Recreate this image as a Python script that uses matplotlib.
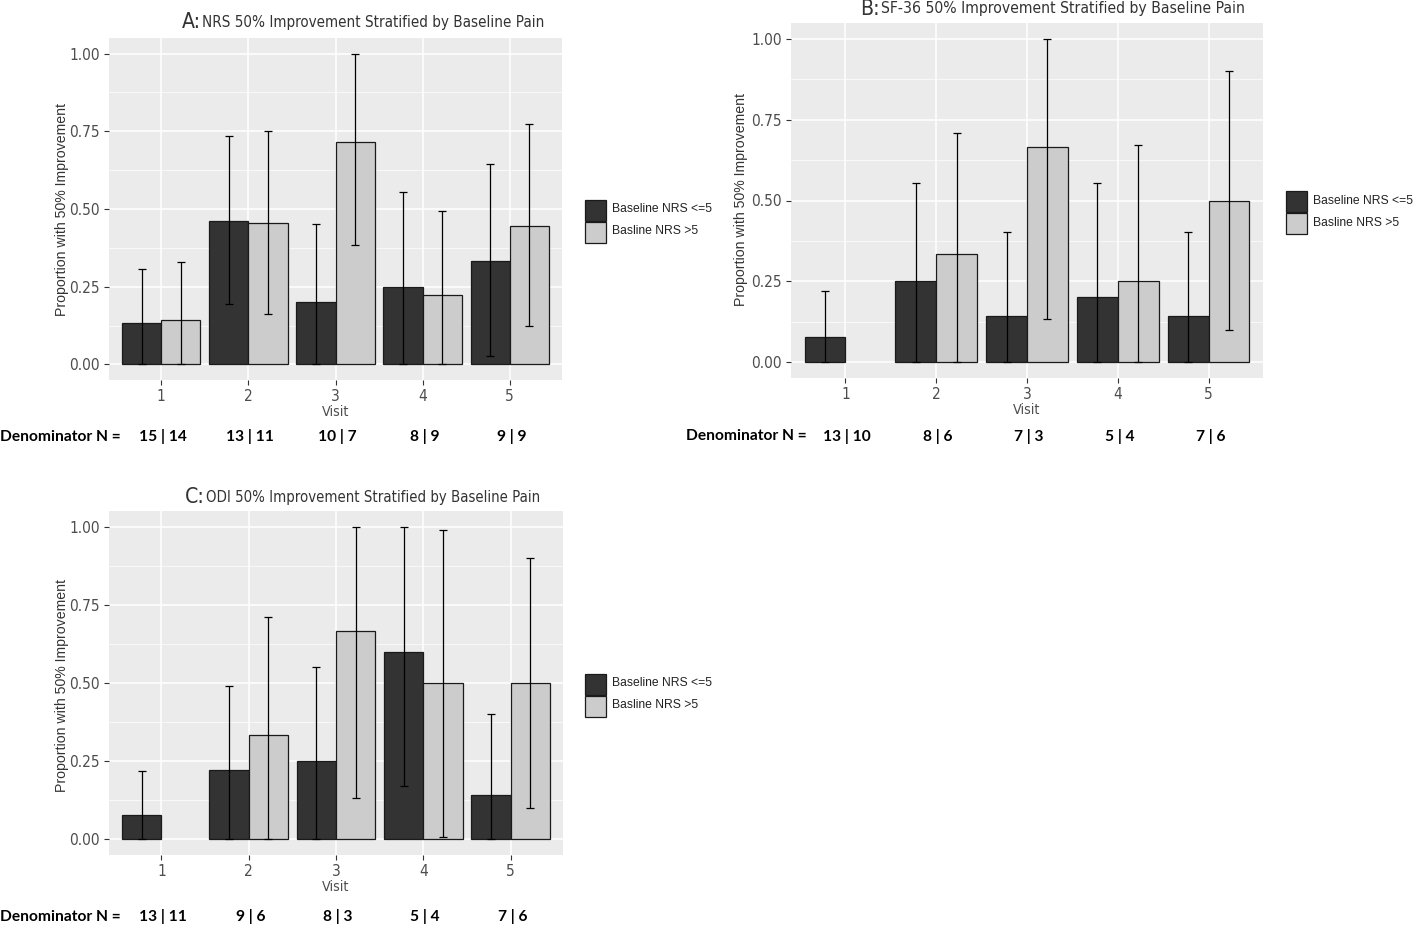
import numpy as np
import matplotlib
matplotlib.use("Agg")
import matplotlib.pyplot as plt
from matplotlib.patches import Rectangle
from matplotlib.transforms import blended_transform_factory
from matplotlib import font_manager as fm
from matplotlib.font_manager import FontProperties

# ---------------- data ----------------
visits = [1, 2, 3, 4, 5]
visit_labels = ["1", "2", "3", "4", "5"]
series_names = ["Baseline NRS <=5", "Basline NRS >5"]

# Panel A: NRS
nrs_low = [0.133, 0.462, 0.200, 0.250, 0.333]
nrs_low_lo = [0.0, 0.193, 0.0, 0.0, 0.028]
nrs_low_hi = [0.307, 0.735, 0.451, 0.555, 0.645]
nrs_high = [0.143, 0.455, 0.714, 0.222, 0.444]
nrs_high_lo = [0.0, 0.163, 0.383, 0.0, 0.124]
nrs_high_hi = [0.329, 0.750, 1.0, 0.495, 0.773]
nrs_denoms = ["15 | 14", "13 | 11", "10 | 7", "8 | 9", "9 | 9"]

# Panel B: SF-36
sf_low = [0.077, 0.250, 0.143, 0.200, 0.143]
sf_low_lo = [0.0, 0.0, 0.0, 0.0, 0.0]
sf_low_hi = [0.221, 0.553, 0.402, 0.553, 0.402]
sf_high = [0.0, 0.333, 0.667, 0.250, 0.500]
sf_high_lo = [np.nan, 0.0, 0.134, 0.0, 0.099]
sf_high_hi = [np.nan, 0.709, 1.0, 0.672, 0.900]
sf_denoms = ["13 | 10", "8 | 6", "7 | 3", "5 | 4", "7 | 6"]

# Panel C: ODI
odi_low = [0.077, 0.222, 0.250, 0.600, 0.143]
odi_low_lo = [0.0, 0.0, 0.0, 0.171, 0.0]
odi_low_hi = [0.220, 0.492, 0.551, 1.0, 0.401]
odi_high = [0.0, 0.333, 0.667, 0.500, 0.500]
odi_high_lo = [np.nan, 0.0, 0.133, 0.009, 0.099]
odi_high_hi = [np.nan, 0.710, 1.0, 0.989, 0.899]
odi_denoms = ["13 | 11", "9 | 6", "8 | 3", "5 | 4", "7 | 6"]

# ---------------- fonts ----------------
_fl = fm.fontManager.ttflist
_names = {f.name for f in _fl}
if "Liberation Sans Narrow" in _names:
    FP_N = FontProperties(family=["Liberation Sans Narrow", "DejaVu Sans"])
elif any(f.name == "DejaVu Sans" and "ondensed" in str(f.stretch) for f in _fl) or \
        any("DejaVuSansCondensed" in f.fname for f in _fl):
    FP_N = FontProperties(family=["DejaVu Sans"], stretch="condensed")
else:
    FP_N = FontProperties(family=["Roboto", "DejaVu Sans"])
FP_R = FontProperties(family=["Liberation Sans", "DejaVu Sans"])
FP_B = FontProperties(family=["Lato", "DejaVu Sans"], weight="bold")

# ---------------- style ----------------
W, H = 1418, 927
DARK = "#333333"
LIGHT = "#CCCCCC"
BG = "#EBEBEB"

fig = plt.figure(figsize=(W / 100, H / 100), dpi=100)
renderer = fig.canvas.get_renderer()


def fit_size(s, fp, target_w, rot=False):
    t = fig.text(0, 0, s, fontproperties=fp, fontsize=10, rotation=90 if rot else 0)
    bb = t.get_window_extent(renderer)
    w = bb.height if rot else bb.width
    t.remove()
    return 10 * target_w / w


def fx(px):
    return px / W


def fy(py):
    return 1 - py / H


TICK_SIZE = fit_size("1.00", FP_N, 31)
VISIT_SIZE = fit_size("Visit", FP_N, 27)
YLAB_SIZE = fit_size("Proportion with 50% Improvement", FP_R, 214, rot=True)
LEG_SIZE = fit_size("Baseline NRS <=5", FP_R, 100)
DEN_SIZE = fit_size("Denominator N =", FP_B, 121)
LET_SIZE = fit_size("A:", FP_N, 19)


def panel(box, low, low_lo, low_hi, high, high_lo, high_hi, denoms,
          title_letter, title_rest, title_pos, title_w, ylab_pos, den_label_x, den_y,
          legend_box):
    x0, y0, x1, y1 = box
    ax = fig.add_axes([fx(x0), fy(y1), fx(x1 - x0), fy(y0) - fy(y1)])
    ax.set_facecolor(BG)
    for s in ax.spines.values():
        s.set_visible(False)
    x = np.array(visits, dtype=float)
    w = 0.45
    groups = [(low, low_lo, low_hi, DARK, -w / 2), (high, high_lo, high_hi, LIGHT, w / 2)]
    for vals, lo, hi, col, off in groups:
        vals = np.array(vals)
        lo = np.array(lo)
        hi = np.array(hi)
        m = vals > 0
        ax.bar(x[m] + off, vals[m], width=w, color=col, edgecolor="#1a1a1a",
               linewidth=0.9, zorder=3)
        e = ~np.isnan(hi)
        ax.errorbar(x[e] + off, vals[e], yerr=[vals[e] - lo[e], hi[e] - vals[e]],
                    fmt="none", ecolor="black", elinewidth=0.9, capsize=3.2,
                    capthick=0.9, zorder=4)
    ax.set_xlim(0.4, 5.6)
    ax.set_ylim(-0.05, 1.05)
    ax.set_xticks(visits)
    ax.set_xticklabels(visit_labels)
    ax.set_yticks([0, 0.25, 0.5, 0.75, 1.0])
    ax.set_yticklabels(["0.00", "0.25", "0.50", "0.75", "1.00"])
    ax.set_yticks([0.125, 0.375, 0.625, 0.875], minor=True)
    ax.grid(True, which="major", color="white", linewidth=1.1, zorder=0)
    ax.grid(True, which="minor", axis="y", color="white", linewidth=0.5, zorder=0)
    ax.set_axisbelow(True)
    ax.tick_params(axis="both", which="major", length=3.5, width=0.8,
                   color="#333333", labelcolor="#4D4D4D", pad=3)
    ax.tick_params(axis="both", which="minor", length=0)
    for lab in ax.get_xticklabels() + ax.get_yticklabels():
        lab.set_fontproperties(FP_N)
        lab.set_fontsize(TICK_SIZE)
    ax.set_xlabel("Visit", fontproperties=FP_N, fontsize=VISIT_SIZE, color="#4D4D4D",
                  labelpad=1)
    # y label
    fig.text(fx(ylab_pos[0]), fy(ylab_pos[1]), "Proportion with 50% Improvement",
             rotation=90, ha="center", va="center", fontproperties=FP_R,
             fontsize=YLAB_SIZE, color="#333333")
    # title
    tx, ty = title_pos
    fig.text(fx(tx), fy(ty), title_letter, ha="right", va="center", fontproperties=FP_N,
             fontsize=LET_SIZE, color="#333333")
    fig.text(fx(tx + 1), fy(ty), title_rest, ha="left", va="center", fontproperties=FP_N,
             fontsize=fit_size(title_rest, FP_N, title_w), color="#333333")
    # denominators
    tr = blended_transform_factory(ax.transData, fig.transFigure)
    fig.text(fx(den_label_x), fy(den_y), "Denominator N =", ha="left", va="center",
             fontproperties=FP_B, fontsize=DEN_SIZE, color="black")
    for xv, d in zip(visits, denoms):
        ax.text(xv + 0.02, fy(den_y), d, transform=tr, ha="center", va="center",
                fontproperties=FP_B, fontsize=DEN_SIZE, color="black", clip_on=False)
    # legend
    lx, ly = legend_box
    bw, bh = 21, 21
    for i, (name, col) in enumerate(zip(series_names, [DARK, LIGHT])):
        r = Rectangle((fx(lx), fy(ly + (i + 1) * (bh + 1))), fx(bw), bh / H,
                      transform=fig.transFigure, facecolor=col, edgecolor="#1a1a1a",
                      linewidth=0.9)
        fig.add_artist(r)
        fig.text(fx(lx + bw + 6), fy(ly + i * (bh + 1) + bh / 2), name, ha="left",
                 va="center", fontproperties=FP_R, fontsize=LEG_SIZE, color="#222222")
    return ax


panel((109, 38, 562, 380), nrs_low, nrs_low_lo, nrs_low_hi, nrs_high, nrs_high_lo,
      nrs_high_hi, nrs_denoms, "A:", "NRS 50% Improvement Stratified by Baseline Pain",
      (201, 22), 341, (62, 210), 0, 437, (585, 199))

panel((791, 23, 1263, 378), sf_low, sf_low_lo, sf_low_hi, sf_high, sf_high_lo,
      sf_high_hi, sf_denoms, "B:", "SF-36 50% Improvement Stratified by Baseline Pain",
      (880, 9), 365, (741, 200), 686, 436, (1286, 190))

panel((109, 511, 563, 855), odi_low, odi_low_lo, odi_low_hi, odi_high, odi_high_lo,
      odi_high_hi, odi_denoms, "C:", "ODI 50% Improvement Stratified by Baseline Pain",
      (205, 497), 334, (62, 685), 0, 917, (585, 673))

fig.savefig("out.png", dpi=100, facecolor="white")
